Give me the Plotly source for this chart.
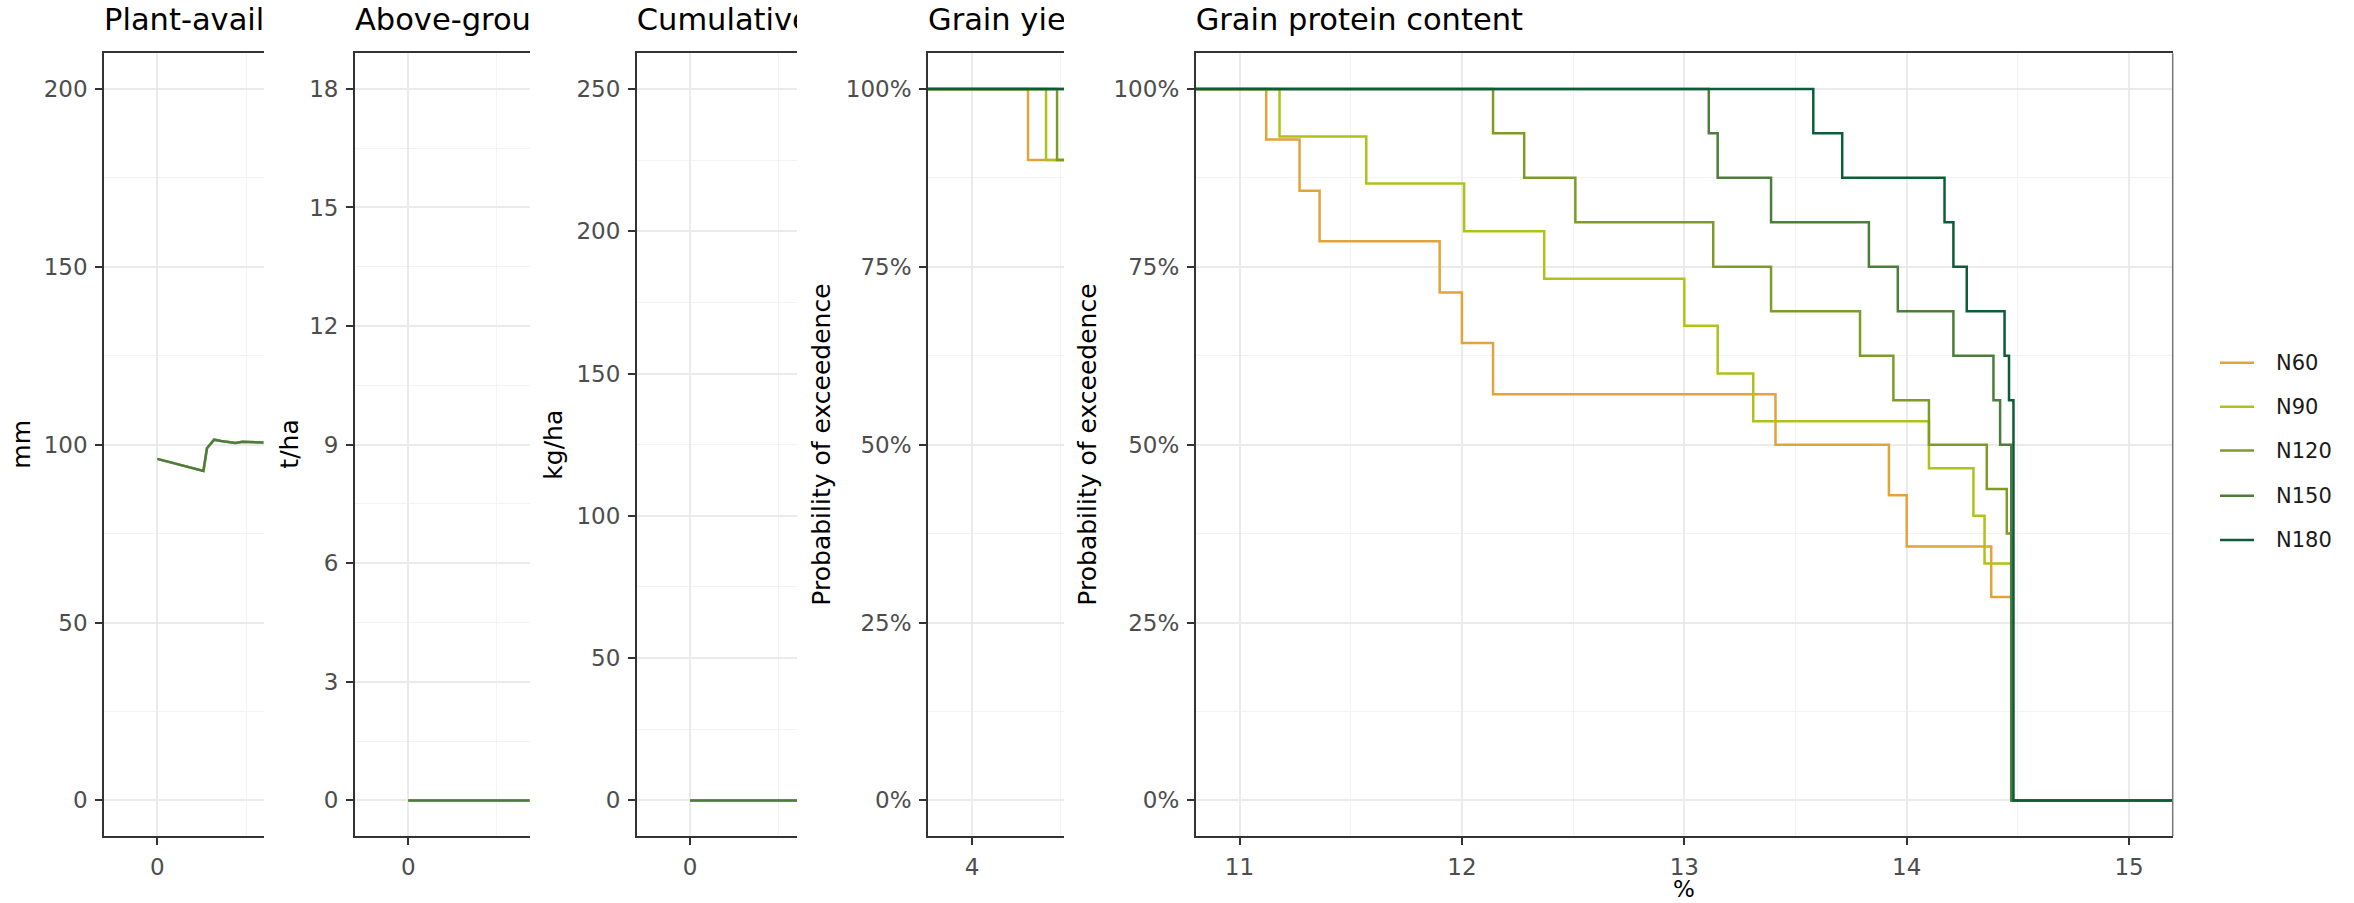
import plotly.graph_objects as go

W, H = 2354, 903
FONT = "DejaVu Sans"

# nitrogen treatments and their colours
treatments = ["N60", "N90", "N120", "N150", "N180"]
colors = ["#E2A33B", "#AFC21C", "#7F9B27", "#4C7D3C", "#0D5C39"]

# plant-available water (mm) against days after sowing
paw_days = [0, 2, 4, 6, 8, 10, 12, 13, 14, 16, 18, 20, 22, 24, 26, 28, 30, 32]
paw_mm = [96.0, 95.5, 95.0, 94.4, 93.9, 93.4, 92.9, 92.6, 99.0, 101.4, 101.0,
          100.8, 100.5, 100.8, 100.7, 100.6, 100.6, 100.5]

# above-ground biomass (t/ha)
biomass_days = [0, 5, 10, 15, 20, 25, 30, 35, 40]
biomass_tha = [0, 0, 0, 0, 0, 0, 0, 0, 0]

# cumulative N uptake (kg/ha)
uptake_days = [0, 5, 10, 15, 20, 25, 30, 35, 40]
uptake_kgha = [0, 0, 0, 0, 0, 0, 0, 0, 0]

# grain yield exceedance: yield (t/ha) where each step falls, and level after it
yield_drop = {"N60": [4.315], "N90": [4.416], "N120": [4.478], "N150": [], "N180": []}
yield_prob = {"N60": [0.90], "N90": [0.90], "N120": [0.90], "N150": [], "N180": []}

# grain protein exceedance: protein (%) where each step falls, and level after it
protein_drop = {
    "N60": [11.12, 11.27, 11.36, 11.90, 12.00, 12.14, 13.41, 13.92, 14.00, 14.38, 14.47],
    "N90": [11.18, 11.57, 12.01, 12.37, 13.00, 13.15, 13.31, 14.10, 14.30, 14.35, 14.47],
    "N120": [12.14, 12.28, 12.51, 13.13, 13.39, 13.79, 13.94, 14.10, 14.36, 14.45, 14.47],
    "N150": [13.11, 13.15, 13.39, 13.83, 13.96, 14.21, 14.39, 14.42, 14.47],
    "N180": [13.58, 13.71, 14.17, 14.21, 14.27, 14.44, 14.46, 14.48],
}
protein_prob = {
    "N60": [0.929, 0.857, 0.786, 0.714, 0.643, 0.571, 0.500, 0.429, 0.357, 0.286, 0.0],
    "N90": [0.933, 0.867, 0.800, 0.733, 0.667, 0.600, 0.533, 0.467, 0.400, 0.333, 0.0],
    "N120": [0.9375, 0.875, 0.8125, 0.75, 0.6875, 0.625, 0.5625, 0.5, 0.4375, 0.375, 0.0],
    "N150": [0.9375, 0.875, 0.8125, 0.75, 0.6875, 0.625, 0.5625, 0.5, 0.0],
    "N180": [0.9375, 0.875, 0.8125, 0.75, 0.6875, 0.625, 0.5625, 0.0],
}

titles = ["Plant-available", "Above-ground", "Cumulative", "Grain yield",
          "Grain protein content"]
ytitles = ["mm", "t/ha", "kg/ha", "Probability of exceedence", "Probability of exceedence"]


def px(x):
    return x / W


def py(y):
    return 1 - y / H


# panel geometry in pixels: left edge, visible right edge, x range
panels = [
    dict(l=104.05, r=263.5, xr=[-15, 29.93], yr=[-10, 210], ydt=50, xdt=50),
    dict(l=354.95, r=529.6, xr=[-15, 34.2], yr=[-0.9, 18.9], ydt=3, xdt=50),
    dict(l=636.75, r=797.0, xr=[-15, 30.14], yr=[-12.5, 262.5], ydt=50, xdt=50),
    dict(l=928.0, r=1064.0, xr=[3.753, 4.517], yr=[-0.05, 1.05], ydt=0.25, xdt=1),
    dict(l=1195.7, r=2172.7, xr=[10.803, 15.196], yr=[-0.05, 1.05], ydt=0.25, xdt=1),
]
TOP, BOTTOM = 53.3, 836.0
ytitle_x = [22, 290, 554, 822, 1088]
title_right = [263.5, 529.6, 797.0, 1064.0, 2354.0]

fig = go.Figure()


def step_xy(drops, probs, lo, hi):
    xs = [lo] + list(drops) + [hi]
    last = probs[-1] if probs else 1.0
    ys = [1.0] + list(probs) + [last]
    return xs, ys


# time-series panels: the five treatments overlap
series = [(paw_days, paw_mm), (biomass_days, biomass_tha), (uptake_days, uptake_kgha)]
for i, (xd, yd) in enumerate(series):
    for t, c in zip(treatments, colors):
        fig.add_trace(go.Scatter(
            x=xd, y=yd, mode="lines", name=t, showlegend=False, opacity=0.45,
            line=dict(color=c, width=2.5), xaxis=f"x{i + 1}", yaxis=f"y{i + 1}",
            hoverinfo="skip"))

# exceedance panels
for t, c in zip(treatments, colors):
    xs, ys = step_xy(yield_drop[t], yield_prob[t], 3.0, 6.0)
    fig.add_trace(go.Scatter(x=xs, y=ys, mode="lines", line_shape="hv", name=t,
                             showlegend=False, line=dict(color=c, width=2.5),
                             xaxis="x4", yaxis="y4"))
for t, c in zip(treatments, colors):
    xs, ys = step_xy(protein_drop[t], protein_prob[t], 10.0, 16.0)
    fig.add_trace(go.Scatter(x=xs, y=ys, mode="lines", line_shape="hv", name=t,
                             showlegend=False, line=dict(color=c, width=2.5),
                             xaxis="x5", yaxis="y5"))

# panel titles, clipped to each panel's visible width
for i, (p, txt) in enumerate(zip(panels, titles)):
    k = i + 6
    fig.add_trace(go.Scatter(
        x=[0], y=[22.5], text=[txt], mode="text", textposition="middle right",
        textfont=dict(family=FONT, size=30.5, color="#000000"), cliponaxis=True,
        showlegend=False, hoverinfo="skip", xaxis=f"x{k}", yaxis=f"y{k}"))

axis_common = dict(
    showline=True, linecolor="#333333", linewidth=1.7,
    ticks="outside", ticklen=7, tickwidth=1.7, tickcolor="#333333",
    tickfont=dict(family=FONT, size=23, color="#4D4D4D"),
    showgrid=True, gridcolor="#EBEBEB", gridwidth=1.6, zeroline=False,
    ticklabelstandoff=3,
)

layout = dict(
    width=W, height=H, autosize=False,
    margin=dict(l=0, r=0, t=0, b=0),
    paper_bgcolor="white", plot_bgcolor="white",
    showlegend=False,
    font=dict(family=FONT),
)

for i, p in enumerate(panels):
    n = "" if i == 0 else str(i + 1)
    xa = dict(axis_common)
    xa.update(domain=[px(p["l"]), px(p["r"])], range=p["xr"], tick0=0,
              dtick=p["xdt"], mirror=True, anchor=f"y{i + 1}",
              minor=dict(dtick=p["xdt"] / 2, showgrid=True, gridcolor="#F3F3F3",
                         gridwidth=1))
    ya = dict(axis_common)
    ya.update(domain=[py(BOTTOM), py(TOP)], range=p["yr"], tick0=0,
              dtick=p["ydt"], mirror=False, anchor=f"x{i + 1}",
              minor=dict(dtick=p["ydt"] / 2, showgrid=True, gridcolor="#F3F3F3",
                         gridwidth=1))
    if i >= 3:
        ya["tickformat"] = ".0%"
    layout[f"xaxis{n}"] = xa
    layout[f"yaxis{n}"] = ya

for i, p in enumerate(panels):
    k = i + 6
    layout[f"xaxis{k}"] = dict(domain=[px(p["l"]), px(title_right[i])], range=[0, 1],
                               visible=False, anchor=f"y{k}", fixedrange=True)
    layout[f"yaxis{k}"] = dict(domain=[py(50), 1], range=[50, 0], visible=False,
                               anchor=f"x{k}", fixedrange=True)

annotations = []
for xt, txt in zip(ytitle_x, ytitles):
    annotations.append(dict(
        x=px(xt), y=py((TOP + BOTTOM) / 2), xref="paper", yref="paper",
        text=txt, textangle=-90, showarrow=False, xanchor="center", yanchor="middle",
        font=dict(family=FONT, size=25, color="#000000")))
annotations.append(dict(
    x=px(1684), y=py(902), xref="paper", yref="paper", text="%", showarrow=False,
    xanchor="center", yanchor="bottom", height=24, borderpad=0, valign="middle",
    font=dict(family=FONT, size=23, color="#000000")))

# legend keys
legend_rows = [362.7, 406.7, 450.5, 495.7, 540.0]
shapes = []
for t, c, yy in zip(treatments, colors, legend_rows):
    shapes.append(dict(type="line", xref="paper", yref="paper",
                       x0=px(2220), x1=px(2254), y0=py(yy), y1=py(yy),
                       line=dict(color=c, width=2.5)))
    annotations.append(dict(x=px(2274), y=py(yy), xref="paper", yref="paper", text=t,
                            showarrow=False, xanchor="left", yanchor="middle",
                            font=dict(family=FONT, size=21, color="#1A1A1A")))

# right border of the last panel
shapes.append(dict(type="line", xref="paper", yref="paper",
                   x0=px(2172.7), x1=px(2172.7), y0=py(BOTTOM), y1=py(TOP),
                   line=dict(color="#777777", width=1.5)))

layout["annotations"] = annotations
layout["shapes"] = shapes
fig.update_layout(**layout)

fig.write_html("out.html")
